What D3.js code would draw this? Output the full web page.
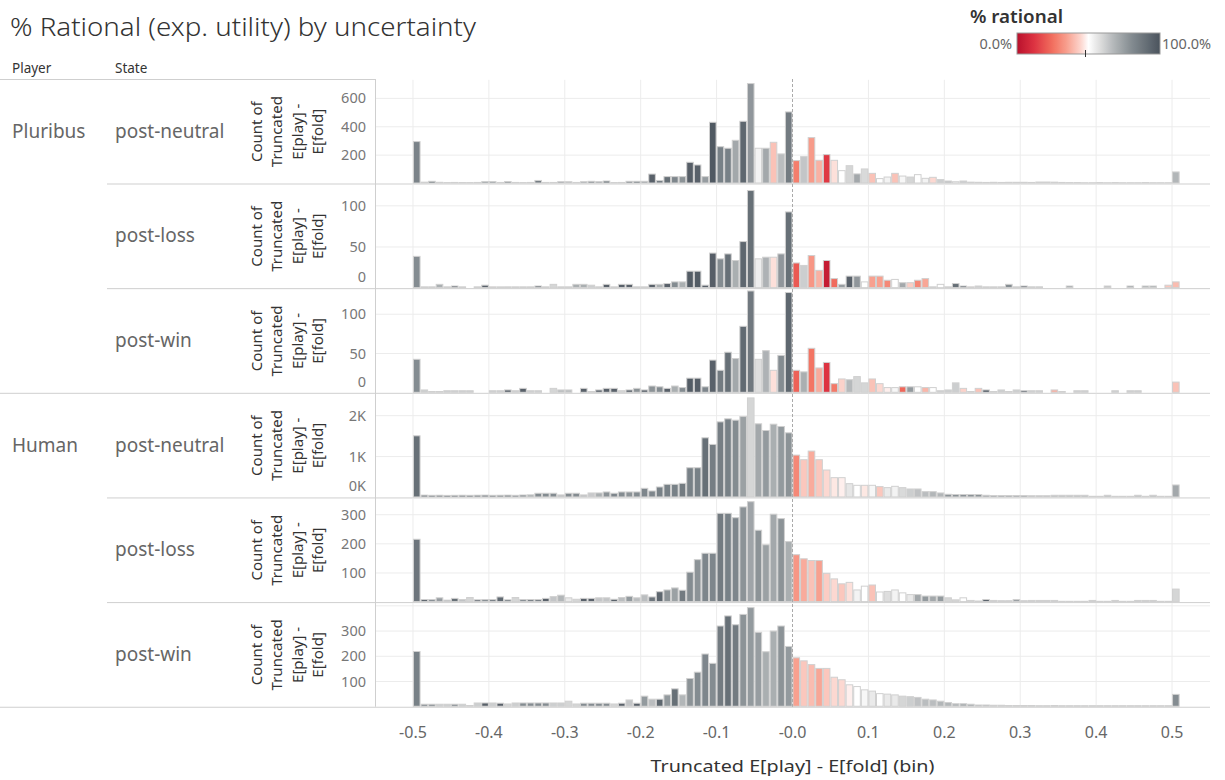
<!DOCTYPE html>
<html><head><meta charset="utf-8">
<script src="https://cdn.jsdelivr.net/npm/d3@7"></script>
<style>body{margin:0;background:#fff;} svg{font-family:"Noto Sans","Open Sans",sans-serif;}</style>
</head><body><svg id="c" width="1225" height="780"></svg>
<script>
const bins = d3.range(101).map(i => Math.round((-0.5 + i * 0.01) * 100) / 100);
const players = ["Pluribus", "Human"];
const states = ["post-neutral", "post-loss", "post-win"];
const xTicks = [-0.5, -0.4, -0.3, -0.2, -0.1, 0, 0.1, 0.2, 0.3, 0.4, 0.5];
const xTickLabels = ["-0.5", "-0.4", "-0.3", "-0.2", "-0.1", "-0.0", "0.1", "0.2", "0.3", "0.4", "0.5"];

const pnCounts = [292,6,12,5,3,4,3,3,4,10, 10,4,10,4,3,4,18,4,4,9, 9,4,9,12,9,14,3,4,12,12, 12,63,18,45,45,45,146,127,45,428,
  256,245,301,435,701,245,245,287,205,501, 158,186,320,160,200,160,87,122,64,99, 68,31,42,68,49,42,59,33,40,24,
  14,9,14,6,5,4,5,4,5,5, 5,4,7,7,6,4,3,3,2,2, 3,2,3,2,2,2,3,2,2,2, 78];
const pnRational = [.83,.7,.9,.7,.6,.75,.7,.6,.7,.8, .8,.7,.85,.6,.6,.7,.85,.6,.7,.85, .7,.6,.8,.85,.85,.9,.7,.7,.85,.9,
  .75,.95,.85,.9,.82,.78,.96,.95,.75,.98, .84,.84,.72,.93,.77,.53,.72,.41,.66,.86, .28,.64,.34,.38,.13,.46,.5,.6,.72,.59,
  .41,.5,.53,.41,.52,.6,.5,.53,.45,.62, .65,.5,.62,.7,.6,.7,.35,.8,.8,.7, .65,.6,.7,.7,.65,.6,.6,.6,.6,.6, .6,.6,.6,.6,.6,.6,.6,.6,.6,.6, .68];

const plCounts = [38,1,1,4,1,2,1,0,1,3, 1,1,1,1,1,1,2,1,4,1, 1,4,4,3,1,4,1,4,4,1, 1,4,4,5,7,7,20,20,3,42,
  35,41,33,56,118,35,37,37,41,92, 30,27,39,21,33,11,4,14,14,7, 14,14,9,10,6,6,9,11,1,4,
  1,5,2,1,2,1,1,1,4,1, 2,1,1,0,0,0,2,0,0,0, 0,2,0,0,2,0,2,2,0,3, 7];
const plRational = [.8,.6,.6,.7,.6,.95,.6,.6,.6,.95, .45,.5,.6,.6,.6,.6,.95,.6,.6,.6, .6,.7,.7,.62,.6,.95,.6,.95,.95,.6,
  .6,.95,.7,.95,.8,.7,.97,.97,.95,.96, .8,.9,.7,.93,.9,.54,.69,.46,.77,.9, .2,.62,.33,.38,.04,.24,.75,.95,.77,.5,
  .35,.35,.3,.5,.72,.43,.3,.36,.6,.5, .6,.9,.95,.45,.62,.6,.6,.6,.8,.6, .95,.7,.7,.6,.6,.6,.75,.6,.6,.6, .6,.65,.6,.6,.75,.6,.72,.72,.6,.42, .4];

const pwCounts = [42,3,1,1,2,2,2,2,0,0, 2,2,3,2,5,2,2,0,5,3, 3,0,5,1,3,5,5,2,3,5, 3,8,7,5,8,6,18,18,7,41,
  28,51,43,84,129,42,53,28,47,127, 28,26,56,31,38,11,17,16,20,12, 17,11,6,6,7,7,7,6,6,2,
  3,12,5,1,5,3,1,3,1,3, 2,2,2,0,3,1,0,2,2,0, 0,0,2,0,2,2,0,0,0,0, 13];
const pwRational = [.8,.62,.6,.6,.62,.62,.62,.62,.6,.6, .62,.62,.95,.62,.95,.62,.62,.6,.6,.66, .66,.6,.95,.6,.95,.95,.95,.6,.95,.78,
  .95,.78,.8,.95,.7,.8,.97,.96,.82,.95, .86,.9,.72,.92,.87,.58,.69,.46,.8,.93, .22,.7,.26,.37,.12,.27,.44,.67,.6,.6,
  .41,.45,.48,.52,.23,.76,.5,.39,.5,.62, .62,.62,.44,.55,.41,.97,.6,.62,.6,.62, .97,.62,.62,.6,.38,.6,.6,.62,.62,.6, .6,.6,.62,.6,.62,.62,.6,.6,.6,.6, .41];

const hnCounts = [1496,45,40,42,38,40,42,40,43,45, 40,42,45,40,48,52,90,90,90,50, 90,90,50,98,98,122,90,122,122,122,
  211,146,244,309,309,333,715,715,1447,1285, 1837,1911,1878,1967,2423,1789,1626,1780,1724,1569,
  1024,911,1122,911,659,472,472,325,285,285, 285,252,228,260,228,195,195,130,130,98,
  65,60,60,60,60,41,35,35,35,35, 35,30,30,30,41,41,41,41,41,16, 16,41,16,16,16,41,16,41,16,16, 293];
const hnRational = [.9,.88,.9,.88,.9,.88,.88,.9,.88,.88, .88,.86,.86,.84,.8,.7,.8,.8,.8,.65, .8,.8,.65,.63,.7,.78,.82,.8,.78,.8,
  .82,.82,.84,.84,.84,.86,.84,.84,.9,.85, .85,.84,.8,.74,.6,.72,.76,.7,.76,.78, .3,.42,.37,.42,.45,.47,.48,.56,.5,.47,
  .52,.42,.55,.53,.59,.62,.65,.66,.68,.68, .78,.78,.78,.78,.78,.75,.75,.75,.75,.75, .75,.68,.68,.68,.66,.66,.66,.66,.66,.68,
  .68,.66,.68,.68,.68,.66,.68,.66,.68,.68, .72];

const hlCounts = [214,7,7,13,5,11,7,14,6,7, 7,16,6,14,7,7,7,11,17,22, 13,8,11,11,13,13,8,14,18,13, 23,16,34,40,47,39,101,144,166,166,
  303,303,288,325,343,245,195,300,285,206, 161,147,141,141,97,78,61,66,40,53, 57,33,35,40,30,24,24,19,19,19,
  13,6,13,4,2,7,4,3,3,7, 3,4,4,4,4,1,1,1,1,4, 1,1,4,1,1,4,4,4,1,1, 43];
const hlRational = [.88,.95,.8,.75,.7,.9,.65,.6,.95,.8, .85,.92,.9,.6,.8,.85,.85,.95,.64,.68, .55,.6,.95,.95,.64,.64,.95,.66,.76,.66,
  .66,.88,.93,.78,.74,.86,.8,.78,.82,.82, .86,.84,.82,.78,.73,.78,.74,.72,.78,.7, .33,.37,.41,.35,.43,.45,.42,.46,.53,.5,
  .41,.5,.58,.53,.5,.55,.72,.76,.72,.76, .6,.6,.5,.6,.6,.97,.7,.7,.7,.75, .7,.7,.7,.7,.7,.7,.7,.7,.7,.7, .7,.7,.7,.7,.7,.7,.7,.7,.7,.7, .6];

const hwCounts = [217,8,8,8,8,8,8,3,13,13, 13,12,9,13,13,13,13,13,13,13, 20,9,12,12,12,12,9,12,25,12, 40,28,28,45,69,45,110,135,207,170,
  318,358,323,364,391,293,216,298,318,237, 192,180,165,150,150,115,105,85,78,65, 60,50,48,45,40,38,35,28,25,20,
  15,10,10,8,5,5,4,4,3,3, 3,3,2,2,3,2,2,2,2,2, 2,2,2,2,2,2,2,2,2,2, 47];
const hwRational = [.84,.8,.8,.62,.62,.8,.62,.6,.62,.95, .62,.95,.6,.62,.8,.8,.8,.8,.62,.62, .6,.6,.8,.8,.8,.8,.6,.95,.64,.95,
  .76,.66,.93,.76,.9,.68,.78,.8,.82,.8, .86,.9,.86,.78,.76,.75,.7,.7,.78,.76, .35,.42,.4,.36,.42,.45,.45,.48,.5,.52,
  .55,.5,.55,.55,.6,.62,.65,.66,.66,.68, .68,.68,.7,.7,.7,.7,.7,.7,.7,.7, .7,.7,.7,.7,.7,.7,.7,.7,.7,.7, .7,.7,.7,.7,.7,.7,.7,.7,.7,.7, .8];

const yTicksPN = [200, 400, 600];
const yTicksPL = [0, 50, 100];
const yTicksPW = [0, 50, 100];
const yTicksHN = [0, 1000, 2000];
const yTicksHL = [100, 200, 300];
const yTicksHW = [100, 200, 300];

const legendTitle = "% rational";
const legendLabels = ["0.0%", "100.0%"];
const title = "% Rational (exp. utility) by uncertainty";
const xTitle = "Truncated E[play] - E[fold] (bin)";
const yTitleLines = ["Count of", "Truncated", "E[play] -", "E[fold]"];

const panels = [
  {player: 0, state: 0, counts: pnCounts, rational: pnRational, ticks: yTicksPN, yMax: 731, fmt: d => d},
  {player: 0, state: 1, counts: plCounts, rational: plRational, ticks: yTicksPL, yMax: 126, fmt: d => d},
  {player: 0, state: 2, counts: pwCounts, rational: pwRational, ticks: yTicksPW, yMax: 132, fmt: d => d},
  {player: 1, state: 0, counts: hnCounts, rational: hnRational, ticks: yTicksHN, yMax: 2537, fmt: d => (d / 1000) + "K"},
  {player: 1, state: 1, counts: hlCounts, rational: hlRational, ticks: yTicksHL, yMax: 356, fmt: d => d},
  {player: 1, state: 2, counts: hwCounts, rational: hwRational, ticks: yTicksHW, yMax: 411, fmt: d => d},
];

// ---- layout
const plotL = 375, plotR = 1210;
const top0 = 79.8, rowH = 104.65, paneH = 103.7;

const svg = d3.select("#c");
const x = d3.scaleLinear().domain([-0.55, 0.55]).range([plotL, plotR]);
const color = d3.scaleLinear()
  .domain([0, 0.12, 0.25, 0.35, 0.45, 0.5, 0.57, 0.67, 0.8, 1])
  .range(["#b9102c", "#dd3341", "#f2705f", "#f8a08f", "#fcd8d1", "#ffffff", "#e2e2e2", "#b6b9bb", "#848c91", "#4a535d"])
  .clamp(true);

// title
svg.append("text").attr("x", 10).attr("y", 36).attr("font-size", 25).attr("fill", "#333").attr("font-weight", 300)
  .attr("textLength", 466).attr("lengthAdjust", "spacingAndGlyphs").text(title);

// legend
svg.append("text").attr("x", 970).attr("y", 23).attr("font-size", 17).attr("font-weight", 600).attr("fill", "#333")
  .attr("textLength", 93).attr("lengthAdjust", "spacingAndGlyphs").text(legendTitle);
const defs = svg.append("defs");
const grad = defs.append("linearGradient").attr("id", "lg");
d3.range(0, 1.0001, 0.02).forEach(t => grad.append("stop").attr("offset", t).attr("stop-color", color(t)));
svg.append("rect").attr("x", 1017).attr("y", 33).attr("width", 143).attr("height", 21).attr("fill", "url(#lg)").attr("stroke", "#999").attr("stroke-width", 1);
svg.append("line").attr("x1", 1085.5).attr("x2", 1085.5).attr("y1", 50).attr("y2", 57).attr("stroke", "#333");
svg.append("text").attr("x", 1012).attr("y", 49).attr("text-anchor", "end").attr("font-size", 14.5).attr("fill", "#666").text(legendLabels[0]);
svg.append("text").attr("x", 1162).attr("y", 49).attr("font-size", 14.5).attr("fill", "#666").text(legendLabels[1]);

// column headers
svg.append("text").attr("x", 12).attr("y", 73).attr("font-size", 13.5).attr("fill", "#333").text("Player");
svg.append("text").attr("x", 115).attr("y", 73).attr("font-size", 13.5).attr("fill", "#333").text("State");
svg.append("line").attr("x1", 0).attr("x2", plotL).attr("y1", 79.5).attr("y2", 79.5).attr("stroke", "#cfcfcf");

const tops = panels.map((p, i) => top0 + i * rowH);

panels.forEach((p, i) => {
  const t = tops[i], b = t + paneH;
  const y = d3.scaleLinear().domain([0, p.yMax]).range([b, t]);
  const g = svg.append("g");
  g.selectAll(".hg").data(p.ticks.filter(v => v > 0).concat(p.ticks[0] === 100 && p.yMax > 400 ? [400] : []))
    .join("line").attr("x1", plotL).attr("x2", plotR)
    .attr("y1", d => y(d)).attr("y2", d => y(d)).attr("stroke", "#ececec");
  g.selectAll(".vg").data(xTicks.filter(v => v !== 0)).join("line")
    .attr("x1", d => x(d)).attr("x2", d => x(d)).attr("y1", t).attr("y2", b).attr("stroke", "#ececec");
  const data = bins.map((bin, k) => ({bin, c: p.counts[k], r: p.rational[k]})).filter(d => d.c > 0);
  g.selectAll("rect").data(data).join("rect")
    .attr("x", d => x(d.bin) + 0.5)
    .attr("width", d => x(d.bin + 0.01) - x(d.bin) - 1)
    .attr("y", d => y(d.c) - 0.5)
    .attr("height", d => b - y(d.c))
    .attr("fill", d => color(d.r))
    .attr("stroke", "#d0d0d0").attr("stroke-width", 1);
  g.selectAll(".yl").data(p.ticks).join("text")
    .attr("x", 366).attr("y", d => Math.min(y(d), b - 11) + 5)
    .attr("text-anchor", "end").attr("font-size", 14.5).attr("fill", "#777")
    .text(d => p.fmt(d));
  const cy = t + paneH / 2;
  yTitleLines.forEach((ln, j) => {
    svg.append("text").attr("transform", `translate(${261.5 + j * 20.5},${cy}) rotate(-90)`)
      .attr("text-anchor", "middle").attr("font-size", 15).attr("fill", "#333").text(ln);
  });
  svg.append("text").attr("x", 115).attr("y", t + 58).attr("font-size", 19).attr("fill", "#666").text(states[p.state]);
  const sepX = (i === 2 || i === 5) ? 0 : 107;
  svg.append("line").attr("x1", sepX).attr("x2", plotR).attr("y1", b + 0.5).attr("y2", b + 0.5).attr("stroke", "#cfcfcf");
});

players.forEach((pl, j) => {
  svg.append("text").attr("x", 12).attr("y", tops[j * 3] + 58).attr("font-size", 19).attr("fill", "#666").text(pl);
});

svg.append("line").attr("x1", plotL + 0.5).attr("x2", plotL + 0.5).attr("y1", 79).attr("y2", tops[5] + paneH).attr("stroke", "#cfcfcf");
svg.append("line").attr("x1", x(0)).attr("x2", x(0)).attr("y1", 79).attr("y2", tops[5] + paneH)
  .attr("stroke", "#aaa").attr("stroke-dasharray", "3,2");

const xa = svg.append("g");
xa.selectAll("text").data(xTicks).join("text")
  .attr("x", d => x(d)).attr("y", 738).attr("text-anchor", "middle").attr("font-size", 16).attr("fill", "#666")
  .text((d, i) => xTickLabels[i]);
svg.append("text").attr("x", x(0)).attr("y", 772).attr("text-anchor", "middle").attr("font-size", 17).attr("fill", "#333")
  .attr("textLength", 284).attr("lengthAdjust", "spacingAndGlyphs").text(xTitle);
</script></body></html>
